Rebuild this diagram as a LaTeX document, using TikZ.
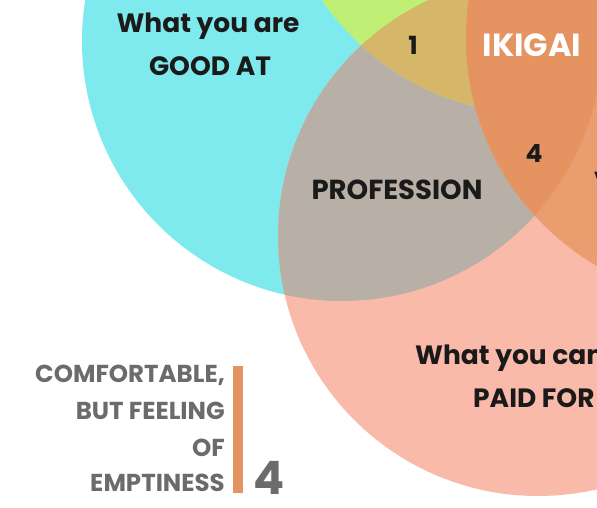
\documentclass[tikz,border=0pt]{standalone}
\usepackage{fontspec}
\setmainfont{Poppins}

\definecolor{goodcol}{RGB}{127,234,237}
\definecolor{lovecol}{RGB}{191,240,117}
\definecolor{paidcol}{RGB}{249,186,170}
\definecolor{profcol}{RGB}{184,175,166}
\definecolor{ikicol}{RGB}{229,147,96}
\definecolor{threecol}{RGB}{214,182,104}
\definecolor{voccol}{RGB}{234,158,112}
\definecolor{notecol}{RGB}{107,107,107}
\definecolor{inkcol}{RGB}{26,26,26}

\begin{document}
\begin{tikzpicture}[x=1pt, y=1pt,
        title/.style={inner sep=0pt, text=inkcol, font=\fontsize{26.5}{26.5}\selectfont\bfseries},
        zone/.style={inner sep=0pt, text=inkcol, font=\fontsize{27.5}{27.5}\selectfont\bfseries},
        num/.style={inner sep=0pt, text=inkcol, font=\fontsize{25}{25}\selectfont\bfseries},
        note/.style={inner sep=0pt, anchor=base east, text=notecol, font=\fontsize{24.5}{24.5}\selectfont\bfseries}
    ]

        \useasboundingbox (0,0) rectangle (597,508);
        \clip (0,0) rectangle (597,508);

        % Circles
        \coordinate (good) at (342,467);
        \coordinate (love) at (538,656);
        \coordinate (need) at (730,470);
        \coordinate (paid) at (538,272);

        \fill[goodcol] (good) circle[radius=260];
        \fill[paidcol] (paid) circle[radius=260];
        \begin{scope}
            \clip (good) circle[radius=260];
            \fill[profcol] (paid) circle[radius=260];
            \fill[lovecol] (love) circle[radius=262];
            \clip (paid) circle[radius=260];
            \fill[threecol] (love) circle[radius=262];
        \end{scope}
        \begin{scope}
            \clip (paid) circle[radius=260];
            \fill[voccol] (need) circle[radius=264];
            \clip (good) circle[radius=260];
            \fill[ikicol] (need) circle[radius=264];
        \end{scope}

        % Labels
        \node[title, anchor=base] (good1) at (208,475) {What you are};
        \node[title, anchor=base] (good2) at (210,432) {GOOD AT};
        \node[zone, anchor=base] (prof) at (397,308) {PROFESSION};
        \node[num, anchor=base] (one) at (413,453) {1};
        \node[zone, anchor=base, text=white, font=\fontsize{32}{32}\selectfont\bfseries] (iki) at (532,451) {IKIGAI};
        \node[num, anchor=base] (four) at (534,345) {4};
        \node[zone, anchor=base west] (voc) at (594,316) {VOCATION};
        \node[title, anchor=base west] (paid1) at (415,143) {What you can be};
        \node[title, anchor=base west] (paid2) at (473,100) {PAID FOR};

        % Side note
        \node[note] (n1) at (225,125) {COMFORTABLE,};
        \node[note] (n2) at (225,88) {BUT FEELING};
        \node[note] (n3) at (225,51) {OF};
        \node[note] (n4) at (225,16) {EMPTINESS};
        \fill[ikicol] (233,15) rectangle (243,142);
        \node[inner sep=0pt, anchor=base west, text=notecol, font=\fontsize{46}{46}\selectfont\bfseries] (bignum) at (253,13) {4};

\end{tikzpicture}
\end{document}
